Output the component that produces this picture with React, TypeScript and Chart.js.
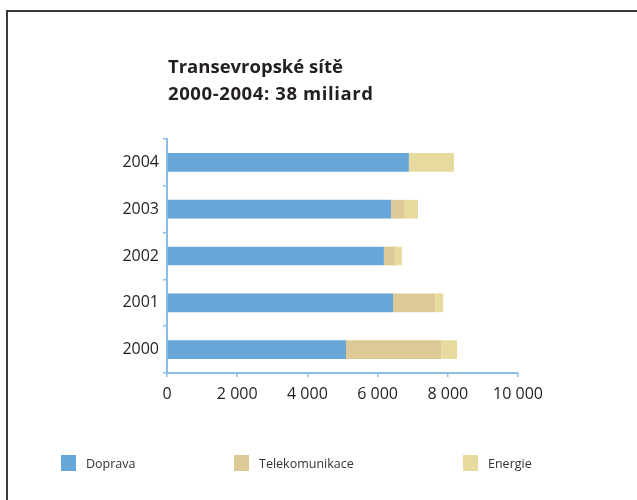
import React, { useEffect, useRef } from "react";
import { Chart, registerables } from "chart.js";

Chart.register(...registerables);

const years = ["2004", "2003", "2002", "2001", "2000"];
const doprava = [6890, 6380, 6180, 6440, 5100];
const telekomunikace = [0, 370, 310, 1200, 2710];
const energie = [1285, 400, 200, 230, 455];
const xTicks = [0, 2000, 4000, 6000, 8000, 10000];

const titleLines = ["Transevropské sítě", "2000-2004: 38 miliard"];
const seriesNames = ["Doprava", "Telekomunikace", "Energie"];
const seriesColors = ["#67a6d9", "#dcc996", "#e7da9f"];
const legendX = [61, 234, 463];

const FONT = "'Open Sans', 'Noto Sans', sans-serif";
const AXIS = "#8cbde6";

export default function App() {
  const ref = useRef<HTMLCanvasElement | null>(null);
  useEffect(() => {
    if (!ref.current) return;
    const chart = new Chart(ref.current, {
      type: "bar",
      data: {
        labels: years,
        datasets: [
          { label: seriesNames[0], data: doprava, backgroundColor: seriesColors[0] },
          { label: seriesNames[1], data: telekomunikace, backgroundColor: seriesColors[1] },
          { label: seriesNames[2], data: energie, backgroundColor: seriesColors[2] },
        ],
      },
      options: {
        indexAxis: "y",
        responsive: false,
        animation: false,
        devicePixelRatio: 1,
        layout: { padding: { left: 107, right: 119, top: 139, bottom: 87 } },
        datasets: { bar: { categoryPercentage: 1, barPercentage: 0.4 } },
        plugins: { legend: { display: false }, title: { display: false }, tooltip: { enabled: false } },
        scales: {
          x: {
            stacked: true,
            min: 0,
            max: 10000,
            afterBuildTicks: (s: any) => {
              s.ticks = xTicks.map((v) => ({ value: v }));
            },
            afterFit: (s: any) => {
              s.height = 40;
            },
            grid: { drawOnChartArea: false, drawTicks: true, tickLength: 4, color: AXIS, lineWidth: 1.5 },
            border: { display: true, color: AXIS, width: 2 },
            ticks: {
              padding: 8,
              color: "#231f20",
              font: { family: FONT, size: 16 },
              maxRotation: 0,
              callback: (v: any) => String(v).replace(/\B(?=(\d{3})+(?!\d))/g, " "),
            },
          },
          y: {
            stacked: true,
            afterFit: (s: any) => {
              s.width = 60;
            },
            grid: { offset: true, drawOnChartArea: false, drawTicks: true, tickLength: 4, color: AXIS, lineWidth: 1.5 },
            border: { display: true, color: AXIS, width: 2 },
            ticks: { padding: 4, color: "#231f20", font: { family: FONT, size: 16 } },
          },
        },
      },
    } as any);
    return () => chart.destroy();
  }, []);

  return (
    <div style={{ position: "fixed", left: 0, top: 0, width: 637, height: 500, overflow: "hidden", background: "#fff" }}>
      <div
        style={{
          position: "absolute",
          left: 6,
          top: 10,
          width: 700,
          height: 600,
          border: "2px solid #3a3a3a",
          boxSizing: "border-box",
        }}
      />
      <canvas ref={ref} width={637} height={500} style={{ position: "absolute", left: 0, top: 0, display: "block" }} />
      <div
        style={{
          position: "absolute",
          left: 168,
          top: 52,
          fontFamily: FONT,
          fontWeight: 700,
          fontSize: 18.5,
          lineHeight: "27px",
          color: "#231f20",
          whiteSpace: "nowrap",
        }}
      >
        {titleLines.map((t, i) => (
          <div key={t} style={{ letterSpacing: i === 1 ? "0.6px" : "0px" }}>
            {t}
          </div>
        ))}
      </div>
      {seriesNames.map((name, i) => (
        <div
          key={name}
          style={{
            position: "absolute",
            left: legendX[i],
            top: 455,
            height: 16,
            display: "flex",
            alignItems: "center",
            fontFamily: FONT,
            fontSize: 12.5,
            color: "#333",
            whiteSpace: "nowrap",
          }}
        >
          <span style={{ display: "inline-block", width: 15, height: 16, background: seriesColors[i], marginRight: 10 }} />
          {name}
        </div>
      ))}
    </div>
  );
}
